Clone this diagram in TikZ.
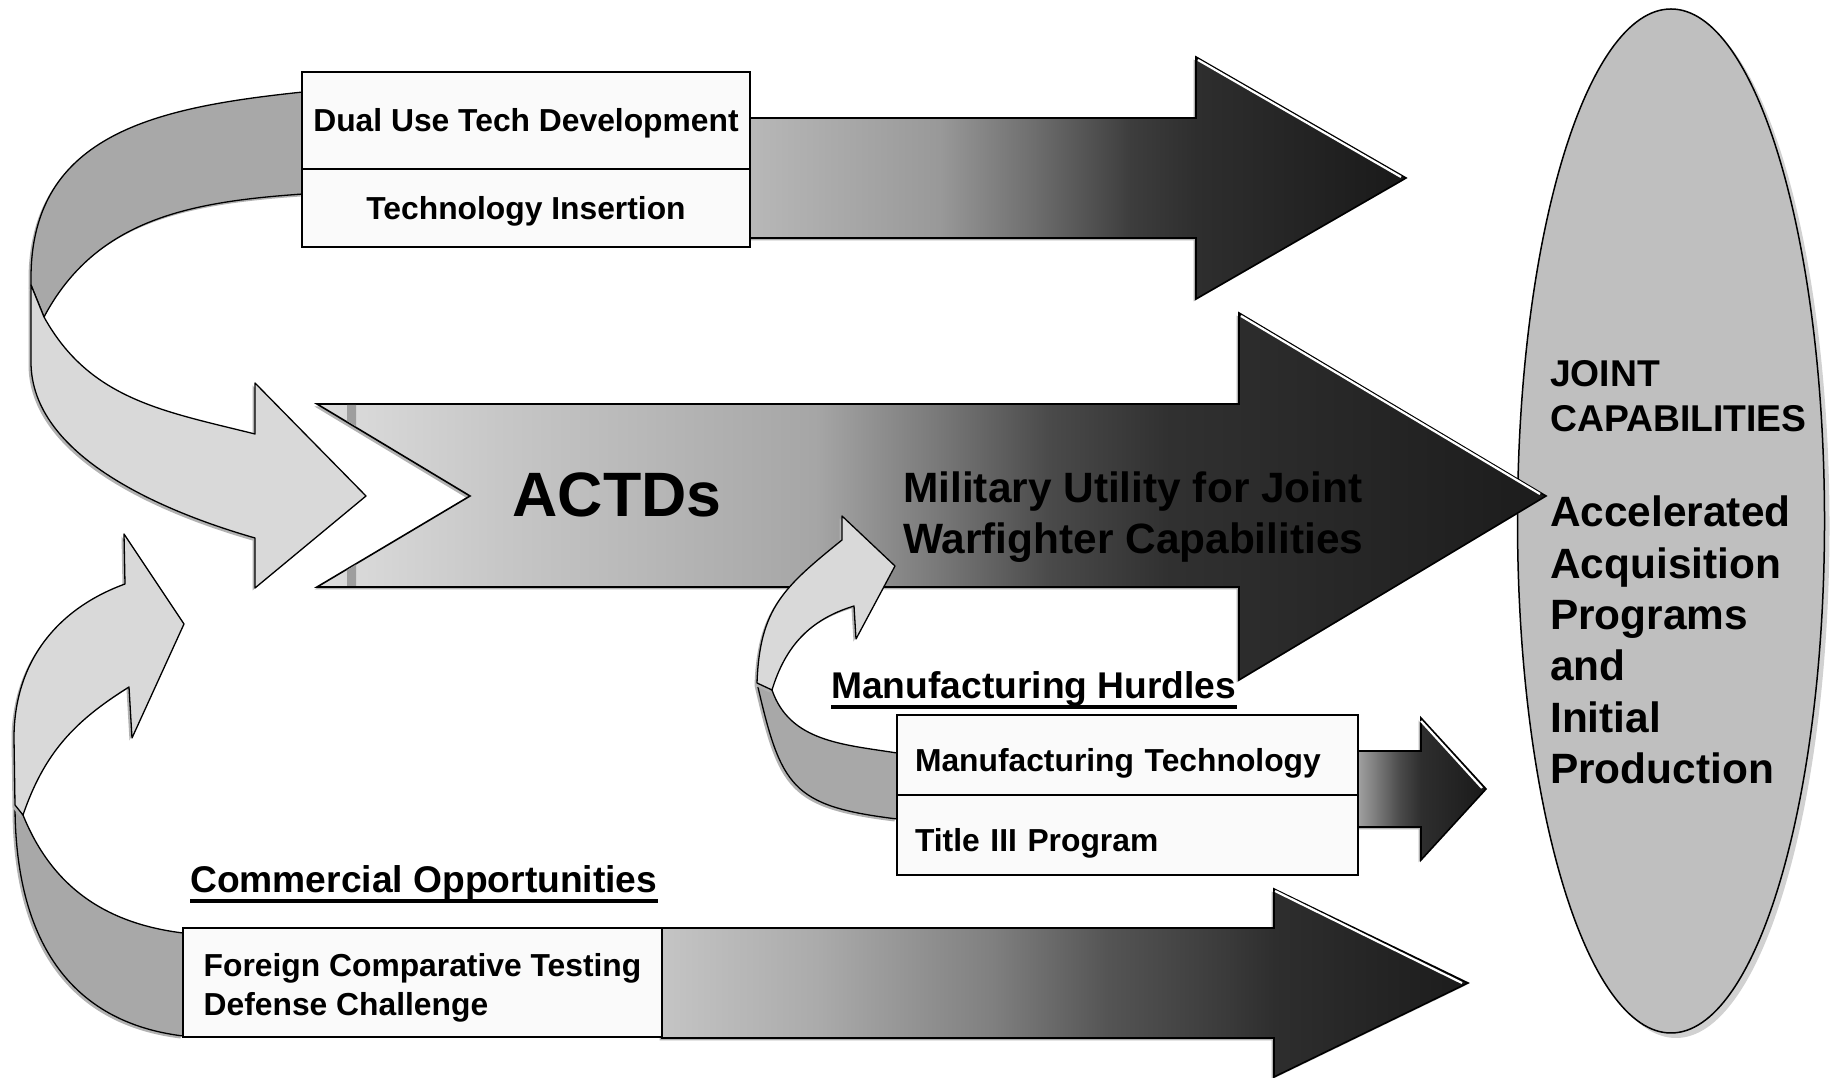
\documentclass[tikz,border=0pt]{standalone}
\usepackage{fontspec}
\setmainfont{Liberation Sans}
\usetikzlibrary{positioning}

\pgfdeclarehorizontalshading{dualfade}{100bp}{color(0bp)=(black!28); color(25bp)=(black!28);
    color(39.4bp)=(black!40); color(46.7bp)=(black!57); color(54bp)=(black!76);
    color(59.1bp)=(black!82); color(75bp)=(black!90); color(100bp)=(black!90)}
\pgfdeclarehorizontalshading{actdsfade}{100bp}{color(0bp)=(black!13); color(25bp)=(black!13);
    color(32.4bp)=(black!22); color(45.3bp)=(black!35); color(50.1bp)=(black!52);
    color(54.8bp)=(black!71); color(59.6bp)=(black!81); color(75bp)=(black!89); color(100bp)=(black!89)}
\pgfdeclarehorizontalshading{mfgfade}{100bp}{color(0bp)=(black!37); color(25bp)=(black!37);
    color(41.4bp)=(black!71); color(49.6bp)=(black!82); color(75bp)=(black!90); color(100bp)=(black!90)}
\pgfdeclarehorizontalshading{fctfade}{100bp}{color(0bp)=(black!23); color(25bp)=(black!23);
    color(34.6bp)=(black!33); color(45.5bp)=(black!50); color(52.7bp)=(black!67);
    color(59.9bp)=(black!77); color(63bp)=(black!82); color(75bp)=(black!89); color(100bp)=(black!89)}

\tikzstyle{shadowed}=[preaction={fill=black!30,transform canvas={xshift=-2.5pt,yshift=-2.5pt}}]
\tikzstyle{backface}=[shadowed,draw,fill=black!34,line width=1.3pt,line join=round]
\tikzstyle{frontface}=[shadowed,draw,fill=black!15,line width=1.3pt,line join=round]
\tikzstyle{bigarrow}=[shadowed,draw,shade,line width=1.6pt]
\tikzstyle{glint}=[white,line width=2.2pt]
\tikzstyle{rowbox}=[draw,line width=1.8pt,fill=black!2,inner sep=0pt,outer sep=0pt,
    font=\bfseries\fontsize{31.8}{39}\selectfont]
\tikzstyle{heading}=[inner sep=0pt,anchor=base west,font=\bfseries\fontsize{37.2}{45}\selectfont]
\tikzstyle{uline}=[line width=3.5pt]
\tikzstyle{bigtext}=[inner sep=0pt,anchor=west,align=left,font=\bfseries\fontsize{42.4}{51.3}\selectfont]

\begin{document}
\begin{tikzpicture}[x=1pt,y=1pt]
    \useasboundingbox (0,0) rectangle (1830,1078);

    \draw[preaction={fill=black!18,transform canvas={xshift=5pt,yshift=-5pt}},
          fill=black!25,line width=1.5pt] (1671,557) ellipse [x radius=153.5,y radius=512];

    \path[backface]  (303,986) to[out=186,in=90,looseness=1.13] (31,800) -- (31,793)
                     -- (44,761) to[out=62,in=184] (303,884) -- cycle;
    \path[frontface] (31,793) -- (31,716) to[out=270,in=164,looseness=0.85] (255,540)
                     -- (255,490) -- (366,582) -- (255,695) -- (255,644)
                     to[out=166,in=-61] (44,761) -- cycle;

    \path[backface]  (183,42) to[out=173,in=270,looseness=1.1] (15,273) -- (23,263)
                     to[out=-68,in=173] (183,145) -- cycle;
    \path[frontface] (15,273) -- (14,340) to[out=90,in=200] (125,494)
                     -- (124,544) -- (184,454) -- (132,340) -- (129,391)
                     to[out=212,in=71] (23,263) -- cycle;

    \path[bigarrow,shading=dualfade]  (750,960) -- (1196,960) -- (1196,1021) -- (1406,900)
                                      -- (1196,779) -- (1196,840) -- (750,840) -- cycle;
    \path[bigarrow,shading=actdsfade] (317,674) -- (1239,674) -- (1239,765) -- (1546,582)
                                      -- (1239,398) -- (1239,491) -- (317,491) -- (470,582) -- cycle;
    \path[bigarrow,shading=fctfade]   (662,150) -- (1274,150) -- (1274,189) -- (1468,95)
                                      -- (1274,1) -- (1274,40) -- (662,40) -- cycle;
    \path[bigarrow,shading=mfgfade]   (1358,327) -- (1421,327) -- (1421,360) -- (1486,289)
                                      -- (1421,218) -- (1421,251) -- (1358,251) -- cycle;

    \fill[black!38] (347,673) -- (356,673) -- (356,651.5) -- (347,657) -- cycle;
    \fill[black!38] (347,492) -- (356,492) -- (356,513.5) -- (347,508) -- cycle;

    \draw[glint] (1198,1018) -- (1401,901);
    \draw[glint] (1241,762) -- (1540,584);
    \draw[glint] (1275,187) -- (1462,95);
    \draw[glint] (1421,357) -- (1482,290);

    \path[backface]  (897,259) to[out=173,in=283,looseness=1.4] (757,395) -- (772,388)
                     to[out=-71,in=171] (897,325) -- cycle;
    \path[frontface] (757,395) to[out=88,in=219,looseness=1.15] (842,538)
                     -- (842,562) -- (895,512) -- (856,439) -- (854,472)
                     to[out=197,in=73] (772,388) -- cycle;

    \node[rowbox,minimum width=448pt,minimum height=97pt,text height=30pt,text depth=7pt] (dual) at (526,957.5)
        {Dual Use Tech Development};
    \node[rowbox,minimum width=448pt,minimum height=78pt,text height=30pt,text depth=7pt,below=0pt of dual] (insert)
        {Technology Insertion};

    \node[rowbox,text width=425pt,inner xsep=18pt,align=left,minimum height=80pt,
          text height=40pt,text depth=7pt] (mfgtech) at (1127.5,323) {Manufacturing Technology};
    \node[rowbox,text width=425pt,inner xsep=18pt,align=left,minimum height=80pt,
          text height=40pt,text depth=7pt,below=0pt of mfgtech] (title3) {Title III Program};

    \node[rowbox,minimum width=479pt,minimum height=109pt,align=left,text height=72pt,text depth=6.7pt]
        (fct) at (422.5,95.5) {Foreign Comparative Testing\\Defense Challenge};

    \node[heading] (hurdles) at (831,379) {Manufacturing Hurdles};
    \draw[uline] ([yshift=-8pt]hurdles.base west) -- ([yshift=-8pt]hurdles.base east);
    \node[heading] (commerce) at (190,185) {Commercial Opportunities};
    \draw[uline] ([yshift=-8pt]commerce.base west) -- ([yshift=-8pt]commerce.base east);

    \node[font=\bfseries\fontsize{62.7}{75}\selectfont] (actds) at (617,583) {ACTDs};
    \node[bigtext] (utility) at (903,561) {Military Utility for Joint\\Warfighter Capabilities};

    \node[bigtext,font=\bfseries\fontsize{37.3}{45.5}\selectfont] (joint) at (1550,682) {JOINT\\CAPABILITIES};
    \node[bigtext] (accel) at (1550,438) {Accelerated\\Acquisition\\Programs\\and\\Initial\\Production};
\end{tikzpicture}
\end{document}
